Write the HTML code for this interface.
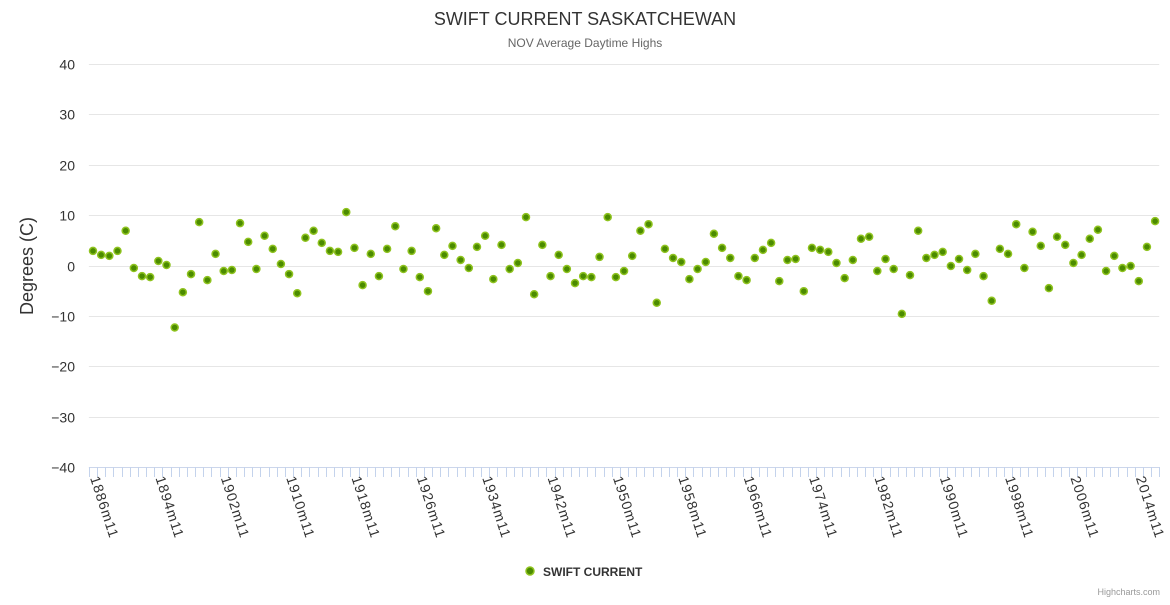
<!DOCTYPE html>
<html><head><meta charset="utf-8"><style>
body{margin:0;background:#fff;font-family:"Liberation Sans",sans-serif;}
</style></head><body>
<svg id="c" width="1170" height="600" xmlns="http://www.w3.org/2000/svg" style="font-family:'Liberation Sans',sans-serif">
<text x="585" y="25" text-anchor="middle" font-size="18" fill="#333">SWIFT CURRENT SASKATCHEWAN</text>
<text x="585" y="47" text-anchor="middle" font-size="12" fill="#666">NOV Average Daytime Highs</text>
<text transform="translate(33,266) rotate(-90)" text-anchor="middle" font-size="18" fill="#333">Degrees (C)</text>
<g id="grid"></g>
<g id="xaxis"></g>
<g id="pts"></g>
<g>
<circle cx="530" cy="571" r="4" fill="#4b8b00" stroke="#8fc31f" stroke-width="1.5"/>
<text x="543" y="576" font-size="12" font-weight="bold" fill="#333">SWIFT CURRENT</text>
</g>
<text x="1160" y="595" text-anchor="end" font-size="9" fill="#999">Highcharts.com</text>
</svg>
<script>
const startYear = 1886;
const values = [2.9,2.1,1.9,2.9,6.9,-0.5,-2.1,-2.3,0.9,0.1,-12.3,-5.3,-1.7,8.6,-2.9,2.3,-1.1,-0.9,8.4,4.7,-0.7,5.9,3.3,0.3,-1.7,-5.5,5.5,6.9,4.5,2.9,2.7,10.6,3.5,-3.9,2.3,-2.1,3.3,7.8,-0.7,2.9,-2.3,-5.1,7.4,2.1,3.9,1.1,-0.5,3.7,5.9,-2.7,4.1,-0.7,0.5,9.6,-5.7,4.1,-2.1,2.1,-0.7,-3.5,-2.1,-2.3,1.7,9.6,-2.3,-1.1,1.9,6.9,8.2,-7.4,3.3,1.5,0.7,-2.7,-0.7,0.7,6.3,3.5,1.5,-2.1,-2.9,1.5,3.1,4.5,-3.1,1.1,1.3,-5.1,3.5,3.1,2.7,0.5,-2.5,1.1,5.3,5.7,-1.1,1.3,-0.7,-9.6,-1.9,6.9,1.5,2.1,2.7,-0.1,1.3,-0.9,2.3,-2.1,-7.0,3.3,2.3,8.2,-0.5,6.7,3.9,-4.5,5.7,4.1,0.5,2.1,5.3,7.1,-1.1,1.9,-0.5,-0.1,-3.1,3.7,8.8];
const yTicks = [40,30,20,10,0,-10,-20,-30,-40];
const categories = values.map((v,i)=>(startYear+i)+"m11");
const NS="http://www.w3.org/2000/svg";
const L=88.9,R=1159.2,T=64,B=467;
const w=(R-L)/categories.length;
const xs=i=>L+w*(i+0.5);
const ys=v=>B-(v+40)/80*(B-T);
function mk(t,a,p){const e=document.createElementNS(NS,t);for(const k in a)e.setAttribute(k,a[k]);p.appendChild(e);return e;}
const grid=document.getElementById('grid');
yTicks.forEach(t=>{
  const y=Math.round(ys(t))+0.5;
  const ln=mk('line',{x1:L,x2:R,y1:y,y2:y,stroke:'#e6e6e6','stroke-width':1},grid);
  
  
  const tx=mk('text',{x:75,y:y+5,'text-anchor':'end','font-size':14,fill:'#333'},grid);
  tx.textContent=(t<0?'\u2212'+(-t):t);
  
  
});
const xa=document.getElementById('xaxis');
const axl=mk('line',{x1:L,x2:R,y1:B+0.5,y2:B+0.5,stroke:'#ccd6eb'},xa);


for(let i=0;i<=categories.length;i++){
  const x=Math.round(L+w*i)+0.5;
  const tk=mk('line',{x1:x,x2:x,y1:B,y2:B+10,stroke:'#c4d3ec'},xa);
  
  
}
categories.forEach((c,i)=>{
  if(i%8!==0)return;
  const x=xs(i);
  const tx=mk('text',{transform:`translate(${x-3},${B+11}) rotate(72)`,'font-size':14,fill:'#333','letter-spacing':'1'},xa);
  tx.textContent=c;
  
  
});
const pts=document.getElementById('pts');
values.forEach((v,i)=>{
  const p=mk('circle',{cx:xs(i),cy:ys(v),r:3.5,fill:'#4b8b00',stroke:'#8fc31f','stroke-width':1.5},pts);
  
  
});
</script>
</body></html>
